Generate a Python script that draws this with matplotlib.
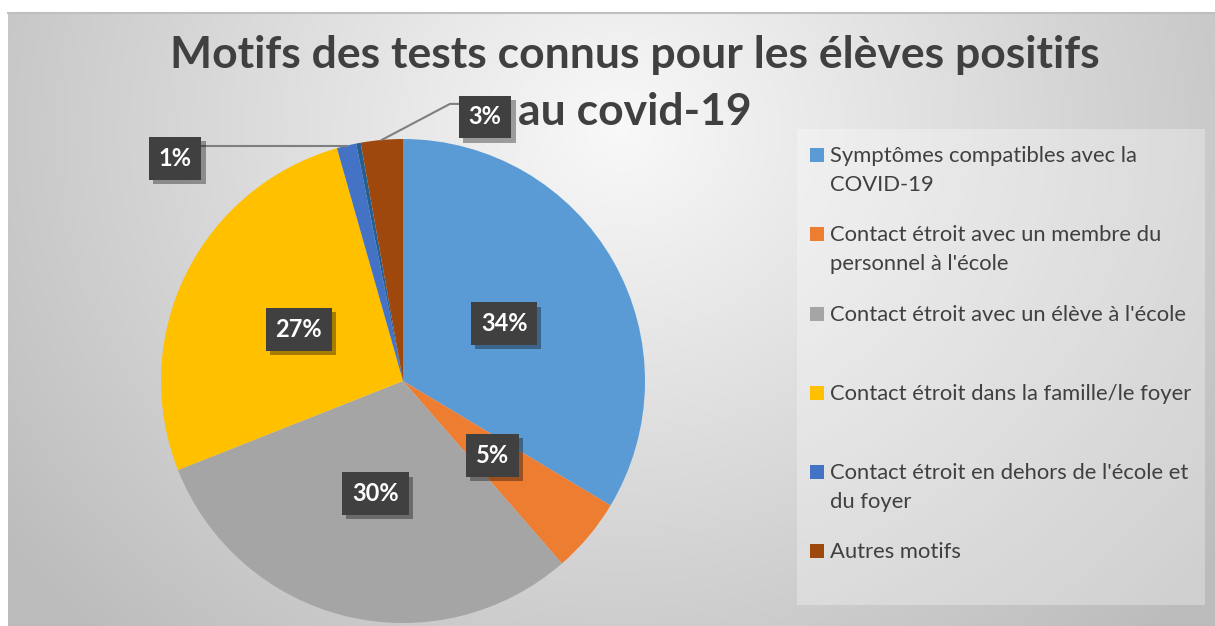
import numpy as np
import matplotlib.pyplot as plt
from matplotlib.patches import Rectangle
import matplotlib.patheffects as pe

# =====================================================
# DATA
# =====================================================
title_lines = ["Motifs des tests connus pour les élèves positifs", "au covid-19"]

categories = [
    "Symptômes compatibles avec la\nCOVID-19",
    "Contact étroit avec un membre du\npersonnel à l'école",
    "Contact étroit avec un élève à l'école",
    "Contact étroit dans la famille/le foyer",
    "Contact étroit en dehors de l'école et\ndu foyer",
    None,  # tiny slice, not in legend
    "Autres motifs",
]
values = [33.6, 5.0, 30.4, 26.6, 1.3, 0.3, 2.8]
colors = ["#5B9BD5", "#ED7D31", "#A5A5A5", "#FFC000", "#4472C4", "#255E91", "#9E480E"]

# =====================================================
# FIGURE + BACKGROUND
# =====================================================
W, H = 1215, 626
FONT = "Lato"
fig = plt.figure(figsize=(W / 100, H / 100), dpi=100)

bg = fig.add_axes([0, 0, 1, 1])
yy, xx = np.mgrid[0:H, 0:W]
d = np.hypot((xx - 620) / 1.0, (yy - 130) / 0.9)
shade = np.clip(0.975 - 0.21 * d / 680, 0.74, 1)
bg.imshow(np.dstack([shade] * 3), extent=(0, W, H, 0), aspect="auto", zorder=0)
bg.add_patch(Rectangle((0, 0), W, 12, fc="white", ec="none", zorder=1))
bg.add_patch(Rectangle((0, 0), 8, H, fc="white", ec="none", zorder=1))
bg.plot([8, W], [12.5, 12.5], color="#bfbfbf", lw=1.5, zorder=2)
bg.set_xlim(0, W)
bg.set_ylim(H, 0)
bg.axis("off")

# title
for i, line in enumerate(title_lines):
    bg.text(635, 68 + 57 * i, line, ha="center", va="baseline",
            fontsize=32, fontweight="bold", color="#404040", family=FONT, zorder=3)

# =====================================================
# LEGEND (manual, Excel-like spacing)
# =====================================================
bg.add_patch(Rectangle((797, 129), 408, 476, fc="white", ec="none", alpha=0.3, zorder=2))
entry_y = [162, 241, 321, 400, 479, 558]
legend_items = [(c, col) for c, col in zip(categories, colors) if c is not None]
for (label, col), y0 in zip(legend_items, entry_y):
    bg.add_patch(Rectangle((810, y0 - 14), 14, 14, fc=col, ec="none", zorder=3))
    for j, part in enumerate(label.split("\n")):
        bg.text(830, y0 + 29 * j, part, ha="left", va="baseline",
                fontsize=15.8, color="#404040", family=FONT, zorder=3)

# =====================================================
# PIE
# =====================================================
cx, cy, r = 403, 381, 242
ax = fig.add_axes([(cx - r) / W, (H - cy - r) / H, 2 * r / W, 2 * r / H])
wedges, _ = ax.pie(values, colors=colors, startangle=90, counterclock=False,
                   radius=1, wedgeprops=dict(linewidth=0))
ax.set_xlim(-1, 1)
ax.set_ylim(-1, 1)
ax.axis("off")


def label_box(x, y, txt):
    t = ax.text(x, y, txt, ha="center", va="center", fontsize=17, fontweight="bold",
                color="white", family=FONT, zorder=5,
                bbox=dict(boxstyle="square,pad=0.42", fc="#404040", ec="none"))
    t.get_bbox_patch().set_path_effects([
        pe.SimplePatchShadow(offset=(3, -3), shadow_rgbFace="black", alpha=0.35),
        pe.Normal()])
    return t


# outside labels: (text box centre, leader path) for the small slices
outside = {
    4: ((-0.942, 0.921), [(-0.84, None)]),
    6: ((0.339, 1.091), [(0.194, 1.145), (0.236, 1.145)]),
}

for i, (w, v) in enumerate(zip(wedges, values)):
    if round(v) < 1:
        continue
    mid = np.deg2rad((w.theta1 + w.theta2) / 2)
    txt = f"{round(v)}%"
    if i in outside:
        (bx, by), path = outside[i]
        ex, ey = np.cos(mid), np.sin(mid)
        xs, ys = [ex], [ey]
        for px, py in path:
            xs.append(px)
            ys.append(ey if py is None else py)
        ax.plot(xs, ys, color="#7f7f7f", lw=1.5, clip_on=False, zorder=4)
        label_box(bx, by, txt)
    else:
        label_box(0.48 * np.cos(mid), 0.48 * np.sin(mid), txt)

fig.savefig("out.png", dpi=100)
